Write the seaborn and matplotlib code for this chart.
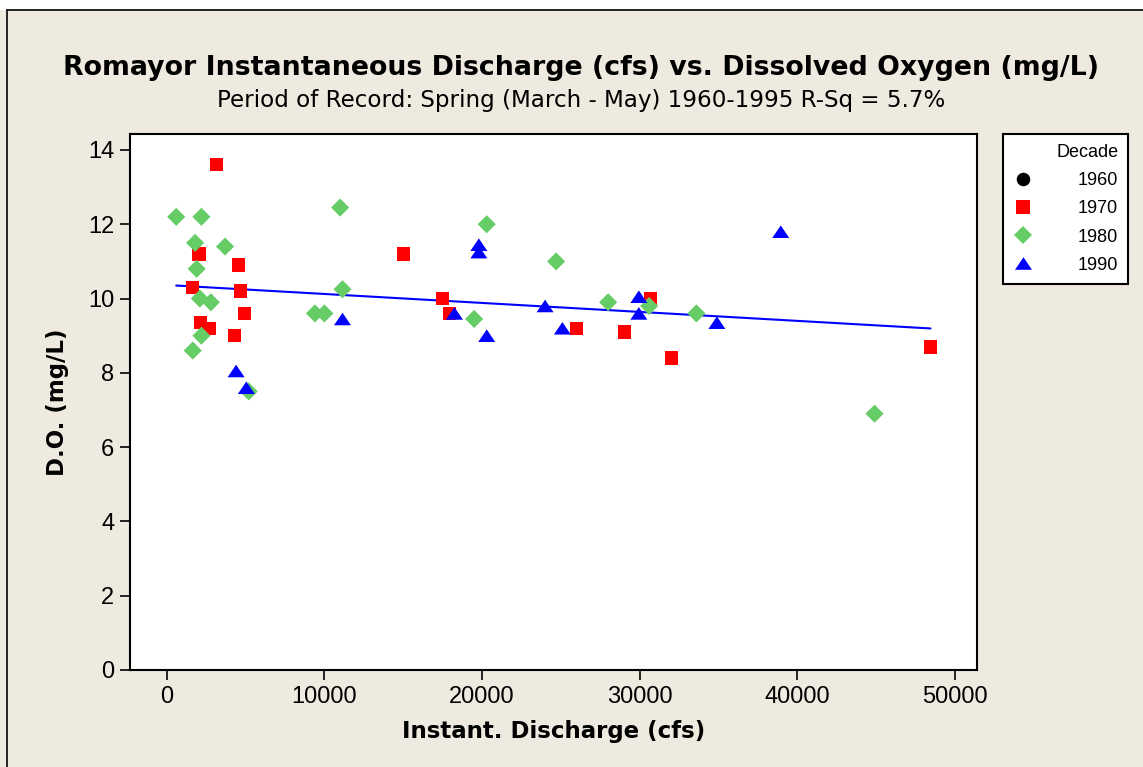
import numpy as np
import pandas as pd
import matplotlib
matplotlib.use("Agg")
import matplotlib.pyplot as plt
from matplotlib.lines import Line2D
from matplotlib.patches import Rectangle
import seaborn as sns

# ---------------- data ----------------
discharge_1970 = [3170, 2050, 4550, 1650, 4700, 4950, 2150, 2700, 4300,
                  15000, 17500, 17950, 26000, 29050, 30700, 32000, 48450]
do_1970 = [13.6, 11.2, 10.9, 10.3, 10.2, 9.6, 9.35, 9.2, 9.0,
           11.2, 10.0, 9.6, 9.2, 9.1, 10.0, 8.4, 8.7]

discharge_1980 = [600, 2200, 1800, 3700, 1900, 2100, 2800, 2200, 1650, 5200,
                  11000, 20300, 11150, 9400, 10000, 19500, 28000, 24700, 30600, 33600, 44900]
do_1980 = [12.2, 12.2, 11.5, 11.4, 10.8, 10.0, 9.9, 9.0, 8.6, 7.5,
           12.45, 12.0, 10.25, 9.6, 9.6, 9.45, 9.9, 11.0, 9.8, 9.6, 6.9]

discharge_1990 = [4400, 5050, 19800, 19800, 11150, 18250, 20300, 24000, 25100,
                  29950, 29950, 34900, 38950]
do_1990 = [8.05, 7.6, 11.45, 11.25, 9.45, 9.6, 9.0, 9.8, 9.2,
           10.05, 9.6, 9.35, 11.8]

decades = ["1960", "1970", "1980", "1990"]
x_ticks = [0, 10000, 20000, 30000, 40000, 50000]
y_ticks = [0, 2, 4, 6, 8, 10, 12, 14]

title = "Romayor Instantaneous Discharge (cfs) vs. Dissolved Oxygen (mg/L)"
subtitle = "Period of Record: Spring (March - May) 1960-1995 R-Sq = 5.7%"
xlabel = "Instant. Discharge (cfs)"
ylabel = "D.O. (mg/L)"

df = pd.DataFrame({
    "Discharge": discharge_1970 + discharge_1980 + discharge_1990,
    "DO": do_1970 + do_1980 + do_1990,
    "Decade": (["1970"] * len(discharge_1970) + ["1980"] * len(discharge_1980)
               + ["1990"] * len(discharge_1990)),
})

# ---------------- style ----------------
BG = "#EEEAE0"
palette = {"1960": "black", "1970": "#FF0000", "1980": "#66CC66", "1990": "#0000FF"}
tri = [(-1, -0.74), (1, -0.74), (0, 0.74)]
markers = {"1960": "o", "1970": "s", "1980": "D", "1990": tri}
sizes = {"1960": 95, "1970": 92, "1980": 85, "1990": 150}

sns.set_theme(style="white")
plt.rcParams["font.family"] = ["Liberation Sans", "DejaVu Sans"]
plt.rcParams["text.color"] = "black"
plt.rcParams["axes.labelcolor"] = "black"
plt.rcParams["xtick.color"] = "black"
plt.rcParams["ytick.color"] = "black"

fig = plt.figure(figsize=(11.43, 7.67), dpi=100, facecolor=BG)
W, H = 1143, 767
ax = fig.add_axes([130 / W, 1 - 670 / H, (977 - 130) / W, (670 - 134) / H])
ax.set_facecolor("white")

# regression line over all data
sns.regplot(data=df, x="Discharge", y="DO", scatter=False, ci=None, ax=ax,
            color="#0000FF", line_kws={"linewidth": 1.5})

sns.scatterplot(data=df, x="Discharge", y="DO", hue="Decade", style="Decade",
                size="Decade", hue_order=decades, style_order=decades,
                size_order=decades, palette=palette, markers=markers,
                sizes=sizes, linewidth=0, legend=False, ax=ax, zorder=3)

ax.set_xlim(-2330, 51400)
ax.set_ylim(0, 14.43)
ax.set_xticks(x_ticks)
ax.set_yticks(y_ticks)
ax.tick_params(axis="both", direction="out", length=7.2, width=1.2,
               colors="black", labelsize=17, bottom=True, left=True, pad=4)
for s in ax.spines.values():
    s.set_color("black")
    s.set_linewidth(1.5)

ax.set_xlabel(xlabel, fontsize=16.5, fontweight="bold", labelpad=9,
              family=["DejaVu Sans"])
ax.set_ylabel(ylabel, fontsize=16.5, fontweight="bold", labelpad=14,
              family=["DejaVu Sans"])

fig.text(581 / W, 1 - 68 / H, title, ha="center", va="center", fontsize=19.3,
         fontweight="bold", family=["DejaVu Sans"])
fig.text(581 / W, 1 - 101 / H, subtitle, ha="center", va="center",
         fontsize=16.6, family=["DejaVu Sans"])

# legend
handles = [Line2D([], [], linestyle="none", marker=markers[d],
                  markerfacecolor=palette[d], markeredgewidth=0,
                  markersize=np.sqrt(sizes[d]))
           for d in decades]
leg = ax.legend(handles, decades, title="Decade", loc="upper left",
                bbox_to_anchor=(1003 / W, 1 - 134 / H),
                bbox_transform=fig.transFigure, frameon=True, fancybox=False,
                edgecolor="black", facecolor="white", framealpha=1,
                fontsize=13, title_fontsize=13, handlelength=1.1,
                handletextpad=2.5, borderpad=0.55, labelspacing=0.62,
                alignment="right", borderaxespad=0)
leg.get_frame().set_linewidth(1.5)

# frame lines of the outer window
fig.add_artist(Rectangle((0, 1 - 10 / H), 1, 10 / H, transform=fig.transFigure,
                         facecolor="white", edgecolor="none"))
fig.add_artist(Line2D([7 / W, 1], [1 - 10 / H, 1 - 10 / H],
                      transform=fig.transFigure, color="black", linewidth=1.2))
fig.add_artist(Line2D([7 / W, 7 / W], [0, 1 - 10 / H],
                      transform=fig.transFigure, color="black", linewidth=1.2))

fig.savefig("out.png", dpi=100, facecolor=BG)
